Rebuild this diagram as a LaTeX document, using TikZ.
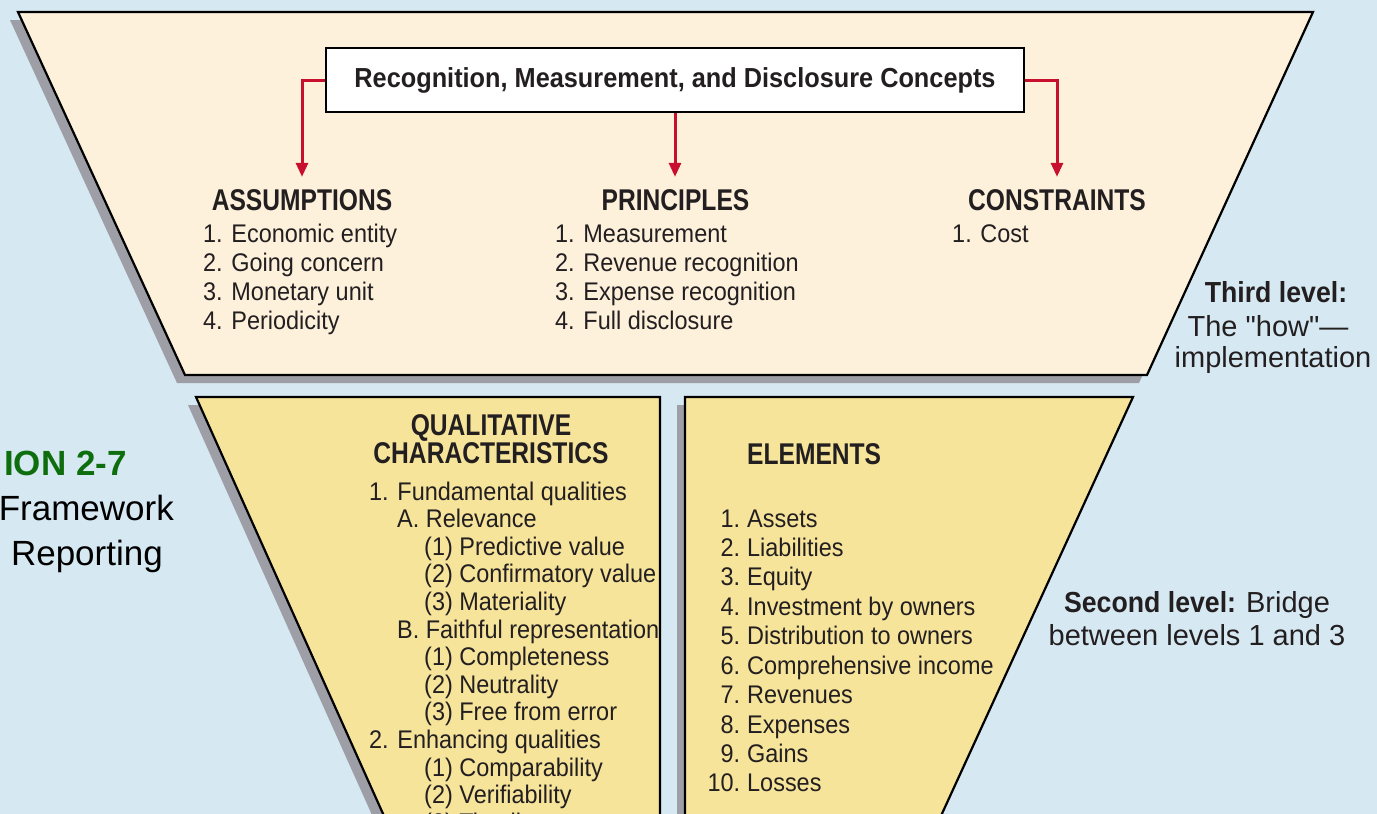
\documentclass[tikz,border=0pt]{standalone}
\usepackage{fontspec}
\setmainfont{Liberation Sans}
\newfontfamily\condf{Liberation Sans}[FakeStretch=0.92]
\newfontfamily\headf{Liberation Sans}[FakeStretch=0.82]
\newcommand\stq{\XeTeXglyph\XeTeXcharglyph"22\relax}
\usetikzlibrary{arrows.meta}
\definecolor{bgblue}{RGB}{214,232,242}
\definecolor{cream}{RGB}{253,241,220}
\definecolor{straw}{RGB}{246,228,155}
\definecolor{shadowgray}{RGB}{158,158,166}
\definecolor{arrowred}{RGB}{200,16,46}
\definecolor{inkdark}{RGB}{35,31,32}
\definecolor{titlegreen}{RGB}{14,110,14}
\tikzset{
  body/.style={anchor=base west, inner sep=0pt, text=inkdark, font=\condf\fontsize{25.5}{30}\selectfont},
  headtxt/.style={anchor=base, inner sep=0pt, text=inkdark, font=\headf\bfseries\fontsize{30}{30}\selectfont},
  lblbold/.style={anchor=base, inner sep=0pt, text=inkdark, font=\fontsize{29}{32}\selectfont},
  panel/.style={draw=black, line width=2.2pt, line join=miter},
  shade/.style={fill=shadowgray, draw=none},
  redarrow/.style={draw=arrowred, line width=3pt, -{Triangle[length=14pt,width=12pt]}, shorten >=12pt},
  titletxt/.style={anchor=base east, inner sep=0pt, font=\fontsize{35}{40}\selectfont}
}
\begin{document}
\begin{tikzpicture}[x=1pt,y=-1pt]
\useasboundingbox (0,0) rectangle (1377,814);
\fill[bgblue] (0,0) rectangle (1377,814);
\clip (0,0) rectangle (1377,814);
% ---- third level panel
\fill[shade] (10,20) -- (1305,20) -- (1139,383) -- (177,383) -- cycle;
\filldraw[panel, fill=cream] (18,12) -- (1313,12) -- (1147,375) -- (185,375) -- cycle;
% ---- second level panels
\fill[shade] (188,405) -- (652,405) -- (652,850) -- (387.7,850) -- cycle;
\filldraw[panel, fill=straw] (196,397) -- (660,397) -- (660,842) -- (395.7,842) -- cycle;
\fill[shade] (677,405) -- (1125,405) -- (920,850) -- (677,850) -- cycle;
\filldraw[panel, fill=straw] (685,397) -- (1133,397) -- (929,842) -- (685,842) -- cycle;
% ---- top box
\node[draw=black, line width=2.5pt, fill=white, minimum width=698pt, minimum height=64pt,
      inner sep=0pt, text=inkdark, font=\condf\bfseries\fontsize{27.5}{30}\selectfont]
      (rmd) at (675,80) {Recognition, Measurement, and Disclosure Concepts};
% ---- headers
\node[headtxt] (asmp) at (302,210) {ASSUMPTIONS};
\node[headtxt] (princ) at (675.5,210) {PRINCIPLES};
\node[headtxt] (cons) at (1057,210) {CONSTRAINTS};
% ---- arrows
\draw[redarrow] (rmd.west) -| (asmp.north);
\draw[redarrow] (rmd.south) -- (rmd.south |- princ.north);
\draw[redarrow] (rmd.east) -| (cons.north);
% ---- lists of third level
\foreach \t [count=\i from 0] in {1. Economic entity, 2. Going concern, 3. Monetary unit, 4. Periodicity}
  \node[body] (as\i) at (203,{242+29.3*\i}) {\t};
\foreach \t [count=\i from 0] in {1. Measurement, 2. Revenue recognition, 3. Expense recognition, 4. Full disclosure}
  \node[body] (pr\i) at (555,{242+29.3*\i}) {\t};
\node[body] (co0) at (952,242) {1. Cost};
% ---- third level label
\node[lblbold, font=\condf\bfseries\fontsize{29}{32}\selectfont] (tl1) at (1276,302) {Third level:};
\node[lblbold] (tl2) at (1268,336) {The \stq how\stq —};
\node[lblbold] (tl3) at (1273,367) {implementation};
% ---- qualitative characteristics
\node[headtxt] (qh1) at (491,435) {QUALITATIVE};
\node[headtxt] (qh2) at (491,463) {CHARACTERISTICS};
\foreach \xx/\t [count=\i from 0] in {369/1. Fundamental qualities, 397/A. Relevance, 424/(1) Predictive value,
   424/(2) Confirmatory value, 424/(3) Materiality, 397/B. Faithful representation, 424/(1) Completeness,
   424/(2) Neutrality, 424/(3) Free from error, 369/2. Enhancing qualities, 424/(1) Comparability,
   424/(2) Verifiability, 424/(3) Timeliness}
  \node[body] (q\i) at (\xx,{500+27.6*\i}) {\t};
% ---- elements
\node[headtxt, anchor=base west] (elh) at (747,464) {ELEMENTS};
\foreach \n/\t [count=\i from 0] in {1./Assets, 2./Liabilities, 3./Equity, 4./Investment by owners,
   5./Distribution to owners, 6./Comprehensive income, 7./Revenues, 8./Expenses, 9./Gains, 10./Losses}
  \node[body] (el\i) at (704,{527+29.44*\i}) {\makebox[36pt][r]{\n}\hspace{7pt}\t};
% ---- second level label
\node[lblbold] (sl1) at (1197,612) {{\condf\bfseries Second level:}\hspace{10pt}Bridge};
\node[lblbold] (sl2) at (1197,645) {between levels 1 and 3};
% ---- illustration title (cut by the left edge)
\node[titletxt, text=titlegreen, font=\bfseries\fontsize{35}{40}\selectfont] (ill1) at (127,475) {ION 2-7};
\node[titletxt] (ill2) at (174,520) {Framework};
\node[titletxt] (ill3) at (163,565) {Reporting};
\end{tikzpicture}
\end{document}
